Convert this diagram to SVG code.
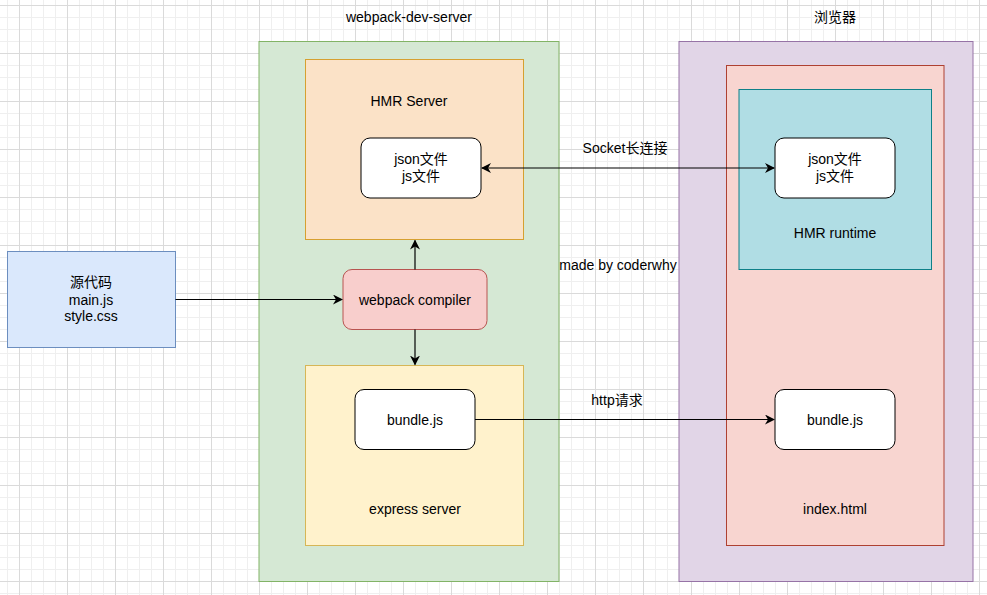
<svg xmlns="http://www.w3.org/2000/svg" width="987" height="595" viewBox="0 0 987 595">
<style>
text{font-family:"Liberation Sans","Noto Sans CJK SC",Arial,sans-serif;font-size:14px;fill:#000;text-anchor:middle}
.box{fill:#fff;stroke:#000;stroke-width:1}
.con{fill:none;stroke:#000;stroke-width:1.2}
</style>
<defs>
<pattern id="grid" patternUnits="userSpaceOnUse" x="19" y="5" width="48" height="48">
<rect x="12" y="0" width="1" height="48" fill="#efefef"/>
<rect x="24" y="0" width="1" height="48" fill="#efefef"/>
<rect x="36" y="0" width="1" height="48" fill="#efefef"/>
<rect x="0" y="12" width="48" height="1" fill="#efefef"/>
<rect x="0" y="24" width="48" height="1" fill="#efefef"/>
<rect x="0" y="36" width="48" height="1" fill="#efefef"/>
<rect x="0" y="0" width="1" height="48" fill="#dadada"/>
<rect x="0" y="0" width="48" height="1" fill="#dadada"/>
</pattern>
<marker id="arr" viewBox="0 0 10 10" refX="9" refY="5" markerWidth="10" markerHeight="10" markerUnits="userSpaceOnUse" orient="auto-start-reverse">
<path d="M0,0 L10,5 L0,10 L3,5 Z" fill="#000"/>
</marker>
</defs>
<rect width="987" height="595" fill="#fff"/>
<rect width="987" height="595" fill="url(#grid)"/>

<g id="dev-server">
<rect x="259" y="41.5" width="300" height="540" fill="#d5e8d4" stroke="#82b366"/>
<text x="409" y="22">webpack-dev-server</text>
</g>
<g id="browser">
<rect x="679" y="41.5" width="294" height="540" fill="#e1d5e7" stroke="#9673a6"/>
<text x="835" y="22">浏览器</text>
</g>
<g id="index-html">
<rect x="726.5" y="65.5" width="217.5" height="480" fill="#f8d5d0" stroke="#ae4132"/>
<text x="835" y="514">index.html</text>
</g>
<g id="hmr-runtime">
<rect x="739" y="89.5" width="192.5" height="180" fill="#b0dde4" stroke="#0e8088"/>
<text x="835" y="238">HMR runtime</text>
</g>
<g id="hmr-server">
<rect x="305.5" y="59.5" width="218" height="180" fill="#fbe2c7" stroke="#d6a030"/>
<text x="409" y="106">HMR Server</text>
</g>
<g id="express-server">
<rect x="305.5" y="365.5" width="218" height="180" fill="#fff2cc" stroke="#d6b656"/>
<text x="415" y="514">express server</text>
</g>
<g id="source">
<rect x="7.5" y="251.5" width="168" height="96" fill="#dae8fc" stroke="#6c8ebf"/>
<text x="91" y="287">源代码</text>
<text x="91" y="305">main.js</text>
<text x="91" y="321">style.css</text>
</g>
<g id="compiler">
<rect x="343" y="269.5" width="144" height="60" rx="9" fill="#f8cecc" stroke="#b85450"/>
<text x="415" y="304.5">webpack compiler</text>
</g>
<g id="server-json">
<rect class="box" x="361" y="138" width="120" height="60" rx="9"/>
<text x="421" y="164">json文件</text>
<text x="421" y="181">js文件</text>
</g>
<g id="server-bundle">
<rect class="box" x="355" y="389.5" width="120" height="60" rx="9"/>
<text x="415" y="424.5">bundle.js</text>
</g>
<g id="client-json">
<rect class="box" x="775" y="138" width="120" height="60" rx="9"/>
<text x="835" y="164">json文件</text>
<text x="835" y="181">js文件</text>
</g>
<g id="client-bundle">
<rect class="box" x="775" y="389.5" width="120" height="60" rx="9"/>
<text x="835" y="424.5">bundle.js</text>
</g>

<g id="connectors">
<path class="con" d="M175.5,299.5 L342,299.5" marker-end="url(#arr)"/>
<path class="con" d="M415,269.5 L415,240.5" marker-end="url(#arr)"/>
<path class="con" d="M415,329.5 L415,364.5" marker-end="url(#arr)"/>
<path class="con" d="M482,168 L774,168" marker-start="url(#arr)" marker-end="url(#arr)"/>
<path class="con" d="M475,419.5 L774,419.5" marker-end="url(#arr)"/>
<text x="625" y="153">Socket长连接</text>
<text x="617" y="405">http请求</text>
</g>
<text x="618" y="270">made by coderwhy</text>
</svg>
